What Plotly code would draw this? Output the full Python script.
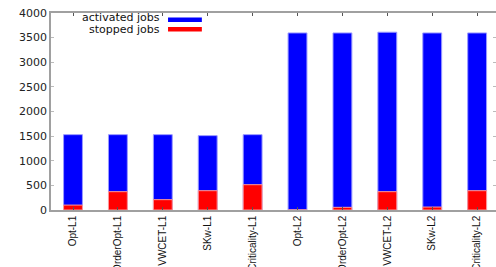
import plotly.graph_objects as go

categories = ["Opt-L1", "OrderOpt-L1", "VWCET-L1", "SKw-L1", "Criticality-L1",
              "Opt-L2", "OrderOpt-L2", "VWCET-L2", "SKw-L2", "Criticality-L2"]
activated_jobs = [1530, 1530, 1530, 1510, 1530, 3595, 3595, 3610, 3595, 3595]
stopped_jobs = [100, 372, 210, 392, 514, 0, 54, 372, 60, 392]
y_ticks = [0, 500, 1000, 1500, 2000, 2500, 3000, 3500, 4000]

FONT = "Liberation Sans, Arial, sans-serif"
WIDE = "DejaVu Sans, sans-serif"
AXIS = "#a0a0a0"

fig = go.Figure()
fig.add_trace(go.Bar(x=categories, y=activated_jobs, name="activated jobs",
                     width=0.42, marker=dict(color="#0000ff", line=dict(color="#9a9aff", width=1))))
fig.add_trace(go.Bar(x=categories, y=stopped_jobs, name="stopped jobs",
                     width=0.42, marker=dict(color="#ff0000", line=dict(color="#ff9a9a", width=1))))

fig.update_layout(
    width=496, height=267,
    margin=dict(l=51, r=0, t=13, b=57),
    barmode="overlay",
    showlegend=False,
    paper_bgcolor="white", plot_bgcolor="white",
    font=dict(family=FONT, color="#222"),
    xaxis=dict(type="category", range=[-0.49, 9.42], tickangle=-90,
               tickfont=dict(size=10, color="#111", family=FONT), automargin=False,
               showline=True, linecolor=AXIS, linewidth=1.5, mirror="allticks",
               ticks="inside", ticklen=3, tickcolor="#555", showgrid=False),
    yaxis=dict(range=[0, 4000], tickvals=y_ticks, tickfont=dict(size=11, color="#222", family=WIDE),
               automargin=False, showline=True, linecolor=AXIS, linewidth=1.5,
               mirror="allticks", ticks="inside", ticklen=3, tickcolor="#bbb",
               showgrid=False, zeroline=False),
)

# legend drawn gnuplot-style: text right-aligned, sample to the right
legend_items = [("activated jobs", "#0000ff", 0.975, 0.954, 0.977),
                ("stopped jobs", "#ff0000", 0.918, 0.906, 0.929)]
for label, color, ty, y0, y1 in legend_items:
    fig.add_annotation(xref="paper", yref="paper", x=0.249, y=ty, text=label,
                       showarrow=False, xanchor="right", yanchor="middle",
                       font=dict(size=11, color="#111", family=WIDE))
    fig.add_shape(type="rect", xref="paper", yref="paper", x0=0.263, x1=0.339,
                  y0=y0, y1=y1, fillcolor=color, line=dict(width=0))

fig.write_html("out.html", config={"displayModeBar": False},
               post_script="document.body.style.margin='0';")
